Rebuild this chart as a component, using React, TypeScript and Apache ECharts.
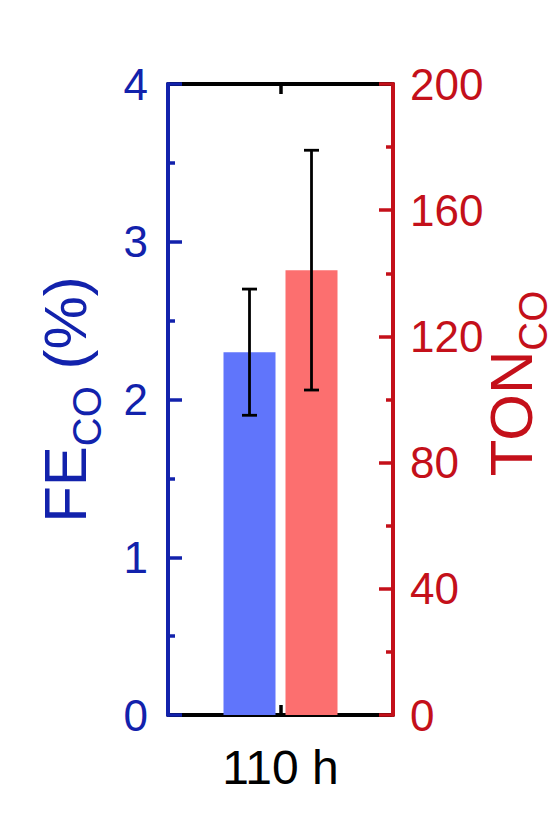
import { useEffect, useRef } from 'react'
import * as echarts from 'echarts'

const categories = ['110 h']
const feMean = [2.3]
const feErr = [0.4]
const tonMean = [141]
const tonErr = [38]

const feTicks = { min: 0, max: 4, interval: 1 }
const tonTicks = { min: 0, max: 200, interval: 40 }
// frame axes: a tick only at the centre, the end ticks hide under the y axes
const frameTicks = { min: -1, max: 1, interval: 1 }

const BLUE = '#1222ac'
const RED = '#c4101a'
const BAR_BLUE = '#6075fb'
const BAR_RED = '#fc6f6f'
const FONT = '"Liberation Sans", Arial, sans-serif'

const BAR_W = 52
const BAR_GAP = 10

const titleRich = {
  a: { fontSize: 60, fontFamily: FONT },
  b: { fontSize: 40, fontFamily: FONT, padding: [44, 0, 0, 0] }
}

function errorSeries(mean: number[], err: number[], yIndex: number, shift: number) {
  return {
    type: 'custom',
    xAxisIndex: 0,
    yAxisIndex: yIndex,
    z: 5,
    data: mean.map((m, i) => [i, m - err[i], m + err[i]]),
    renderItem: (_params: any, api: any) => {
      const lo = api.coord([api.value(0), api.value(1)])
      const hi = api.coord([api.value(0), api.value(2)])
      const x = lo[0] + shift
      const style = { stroke: '#000', lineWidth: 2.8 }
      return {
        type: 'group',
        children: [
          { type: 'line', shape: { x1: x, y1: lo[1], x2: x, y2: hi[1] }, style },
          { type: 'line', shape: { x1: x - 7.5, y1: lo[1], x2: x + 7.5, y2: lo[1] }, style },
          { type: 'line', shape: { x1: x - 7.5, y1: hi[1], x2: x + 7.5, y2: hi[1] }, style }
        ]
      }
    }
  }
}

export default function App() {
  const ref = useRef<HTMLDivElement | null>(null)

  useEffect(() => {
    document.body.style.margin = '0'
    if (!ref.current) return
    const chart = echarts.init(ref.current, null, { renderer: 'svg' })
    const shift = (BAR_W + BAR_GAP) / 2

    const frameAxis = (position: 'top' | 'bottom') => ({
      type: 'value',
      position,
      z: 2,
      ...frameTicks,
      axisLine: { show: true, onZero: false, lineStyle: { color: '#000', width: 4 } },
      axisTick: { show: true, inside: true, length: 10, lineStyle: { color: '#000', width: 3.5 } },
      axisLabel: { show: false },
      splitLine: { show: false }
    })

    chart.setOption({
      animation: false,
      backgroundColor: '#fff',
      grid: { left: 168, right: 161, top: 84, bottom: 105, outerBoundsMode: 'none' },
      xAxis: [
        {
          type: 'category',
          data: categories,
          position: 'bottom',
          axisLine: { show: false, onZero: false },
          axisTick: { show: false },
          axisLabel: { color: '#000', fontSize: 48, fontFamily: FONT, margin: 28 }
        },
        frameAxis('top'),
        frameAxis('bottom')
      ],
      yAxis: [
        {
          type: 'value',
          position: 'left',
          z: 3,
          ...feTicks,
          name: '{a|FE}{b|CO}{a| (%)}',
          nameLocation: 'middle',
          nameGap: 61,
          nameMoveOverlap: false,
          nameTextStyle: { color: BLUE, rich: titleRich },
          axisLine: { show: true, onZero: false, lineStyle: { color: BLUE, width: 4 } },
          axisTick: { show: true, inside: true, length: 14, lineStyle: { color: BLUE, width: 3.5 } },
          minorTick: { show: true, splitNumber: 2, length: 7, lineStyle: { color: BLUE, width: 3.5 } },
          splitLine: { show: false },
          axisLabel: { color: BLUE, fontSize: 44, fontFamily: FONT, margin: 20 }
        },
        {
          type: 'value',
          position: 'right',
          z: 3,
          ...tonTicks,
          name: '{a|TON}{b|CO}',
          nameLocation: 'middle',
          nameGap: 76,
          nameMoveOverlap: false,
          nameTextStyle: { color: RED, rich: titleRich, padding: [0, 0, 0, 32] },
          axisLine: { show: true, onZero: false, lineStyle: { color: RED, width: 4 } },
          axisTick: { show: true, inside: true, length: 14, lineStyle: { color: RED, width: 3.5 } },
          minorTick: { show: true, splitNumber: 2, length: 7, lineStyle: { color: RED, width: 3.5 } },
          splitLine: { show: false },
          axisLabel: { color: RED, fontSize: 44, fontFamily: FONT, margin: 17 }
        }
      ],
      series: [
        {
          type: 'bar',
          yAxisIndex: 0,
          barWidth: BAR_W,
          barGap: `${(BAR_GAP / BAR_W) * 100}%`,
          itemStyle: { color: BAR_BLUE },
          data: feMean
        },
        {
          type: 'bar',
          yAxisIndex: 1,
          barWidth: BAR_W,
          barGap: `${(BAR_GAP / BAR_W) * 100}%`,
          itemStyle: { color: BAR_RED },
          data: tonMean
        },
        errorSeries(feMean, feErr, 0, -shift),
        errorSeries(tonMean, tonErr, 1, shift)
      ]
    })

    return () => {
      chart.dispose()
    }
  }, [])

  return <div ref={ref} style={{ width: 554, height: 820 }} />
}
